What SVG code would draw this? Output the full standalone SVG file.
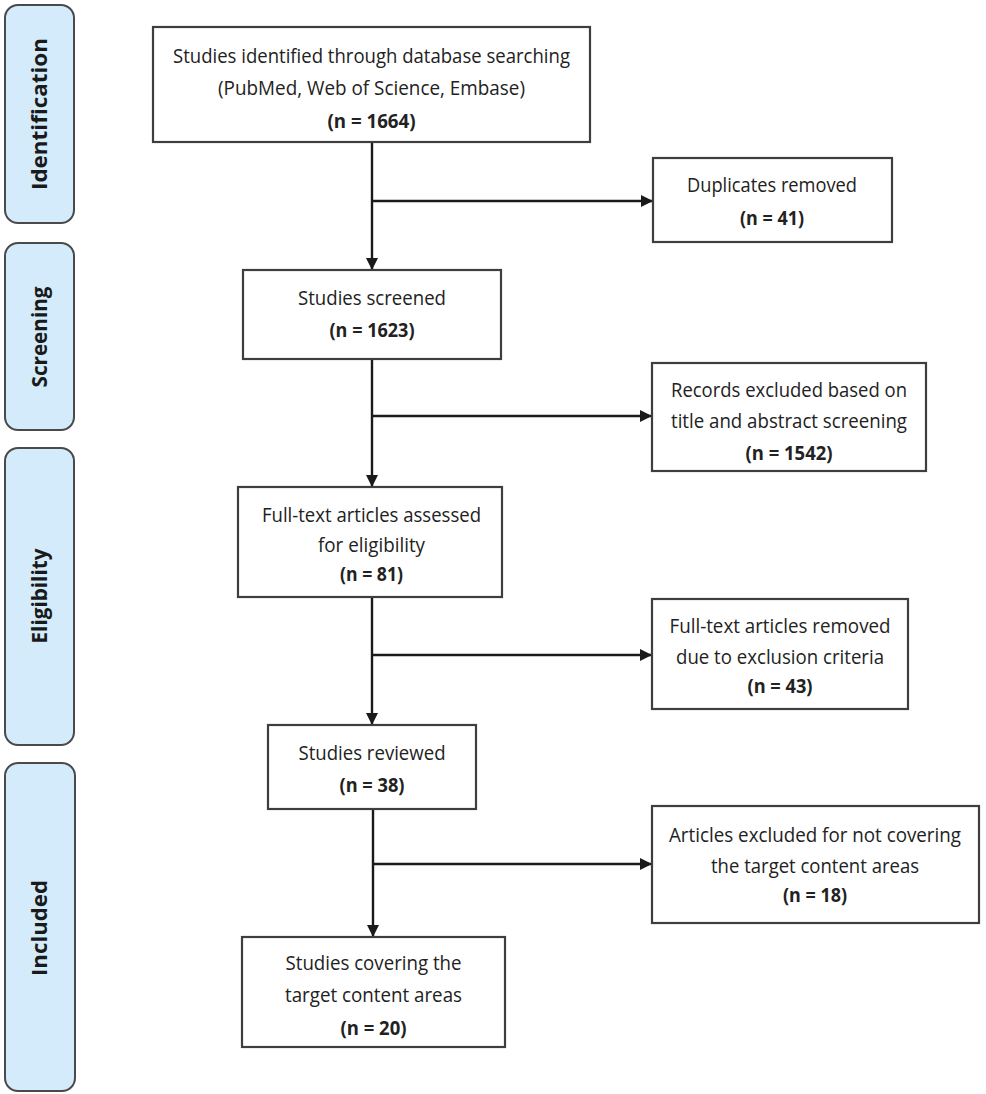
<svg xmlns="http://www.w3.org/2000/svg" width="986" height="1094" viewBox="0 0 986 1094">
<defs>
<marker id="ah" markerWidth="13" markerHeight="13" refX="12" refY="6" orient="auto" markerUnits="userSpaceOnUse">
<path d="M0,0 L12,6 L0,12 z" fill="#1a1a1a"/>
</marker>
<style>
.phase rect{fill:#d3ebfb;stroke:#4a4a4a;stroke-width:2}
.phase text{font-family:"Open Sans","Liberation Sans",sans-serif;font-weight:bold;font-size:21px;fill:#1a1a1a;text-anchor:middle}
.box rect{fill:#fff;stroke:#3e3e3e;stroke-width:2.2}
.box text{font-family:"Open Sans","Liberation Sans",sans-serif;font-size:20px;fill:#222;text-anchor:middle}
.box text.b{font-weight:bold}
#connectors line{stroke:#1a1a1a;stroke-width:2.4}
</style>
</defs>
<rect width="986" height="1094" fill="#fff"/>
<g id="phase-identification" class="phase"><rect x="5" y="5" width="69" height="218" rx="13"/><text transform="translate(47,114) rotate(-90)" textLength="152" lengthAdjust="spacingAndGlyphs">Identification</text></g>
<g id="phase-screening" class="phase"><rect x="5" y="243" width="69" height="187" rx="13"/><text transform="translate(47,337) rotate(-90)" textLength="101" lengthAdjust="spacingAndGlyphs">Screening</text></g>
<g id="phase-eligibility" class="phase"><rect x="5" y="448" width="69" height="297" rx="13"/><text transform="translate(47,596) rotate(-90)" textLength="95" lengthAdjust="spacingAndGlyphs">Eligibility</text></g>
<g id="phase-included" class="phase"><rect x="5" y="763" width="70" height="328" rx="13"/><text transform="translate(47,928) rotate(-90)" textLength="96" lengthAdjust="spacingAndGlyphs">Included</text></g>

<g id="connectors">
<line x1="372" y1="142" x2="372" y2="270" marker-end="url(#ah)"/>
<line x1="372" y1="201" x2="653" y2="201" marker-end="url(#ah)"/>
<line x1="372" y1="359" x2="372" y2="487" marker-end="url(#ah)"/>
<line x1="372" y1="416" x2="652" y2="416" marker-end="url(#ah)"/>
<line x1="372" y1="597" x2="372" y2="725" marker-end="url(#ah)"/>
<line x1="372" y1="655" x2="652" y2="655" marker-end="url(#ah)"/>
<line x1="373" y1="809" x2="373" y2="937" marker-end="url(#ah)"/>
<line x1="373" y1="864" x2="652" y2="864" marker-end="url(#ah)"/>
</g>

<g id="n1" class="box"><rect x="153" y="27" width="437" height="115"/>
<text x="371.5" y="63" textLength="397" lengthAdjust="spacingAndGlyphs">Studies identified through database searching</text>
<text x="371.5" y="95" textLength="307" lengthAdjust="spacingAndGlyphs">(PubMed, Web of Science, Embase)</text>
<text x="371.5" y="128" class="b" textLength="88" lengthAdjust="spacingAndGlyphs">(n = 1664)</text></g>
<g id="n2" class="box"><rect x="653" y="158" width="239" height="84"/>
<text x="772" y="192" textLength="170" lengthAdjust="spacingAndGlyphs">Duplicates removed</text>
<text x="772" y="225" class="b" textLength="64" lengthAdjust="spacingAndGlyphs">(n = 41)</text></g>
<g id="n3" class="box"><rect x="243" y="270" width="258" height="89"/>
<text x="372" y="305" textLength="148" lengthAdjust="spacingAndGlyphs">Studies screened</text>
<text x="372" y="337" class="b" textLength="85" lengthAdjust="spacingAndGlyphs">(n = 1623)</text></g>
<g id="n4" class="box"><rect x="652" y="363" width="274" height="108"/>
<text x="789" y="397" textLength="236" lengthAdjust="spacingAndGlyphs">Records excluded based on</text>
<text x="789" y="428" textLength="236" lengthAdjust="spacingAndGlyphs">title and abstract screening</text>
<text x="789" y="460" class="b" textLength="87" lengthAdjust="spacingAndGlyphs">(n = 1542)</text></g>
<g id="n5" class="box"><rect x="238" y="487" width="264" height="110"/>
<text x="371.5" y="522" textLength="219" lengthAdjust="spacingAndGlyphs">Full-text articles assessed</text>
<text x="371.5" y="552" textLength="107" lengthAdjust="spacingAndGlyphs">for eligibility</text>
<text x="371.5" y="581" class="b" textLength="63" lengthAdjust="spacingAndGlyphs">(n = 81)</text></g>
<g id="n6" class="box"><rect x="652" y="599" width="256" height="110"/>
<text x="780" y="633" textLength="221" lengthAdjust="spacingAndGlyphs">Full-text articles removed</text>
<text x="780" y="664" textLength="208" lengthAdjust="spacingAndGlyphs">due to exclusion criteria</text>
<text x="780" y="693" class="b" textLength="65" lengthAdjust="spacingAndGlyphs">(n = 43)</text></g>
<g id="n7" class="box"><rect x="268" y="725" width="208" height="84"/>
<text x="372" y="760" textLength="147" lengthAdjust="spacingAndGlyphs">Studies reviewed</text>
<text x="372" y="792" class="b" textLength="65" lengthAdjust="spacingAndGlyphs">(n = 38)</text></g>
<g id="n8" class="box"><rect x="652" y="806" width="327" height="117"/>
<text x="815" y="842" textLength="292" lengthAdjust="spacingAndGlyphs">Articles excluded for not covering</text>
<text x="815" y="873" textLength="208" lengthAdjust="spacingAndGlyphs">the target content areas</text>
<text x="815" y="902" class="b" textLength="64" lengthAdjust="spacingAndGlyphs">(n = 18)</text></g>
<g id="n9" class="box"><rect x="242" y="937" width="263" height="110"/>
<text x="373.5" y="970" textLength="176" lengthAdjust="spacingAndGlyphs">Studies covering the</text>
<text x="373.5" y="1002" textLength="177" lengthAdjust="spacingAndGlyphs">target content areas</text>
<text x="373.5" y="1035" class="b" textLength="66" lengthAdjust="spacingAndGlyphs">(n = 20)</text></g>
</svg>
